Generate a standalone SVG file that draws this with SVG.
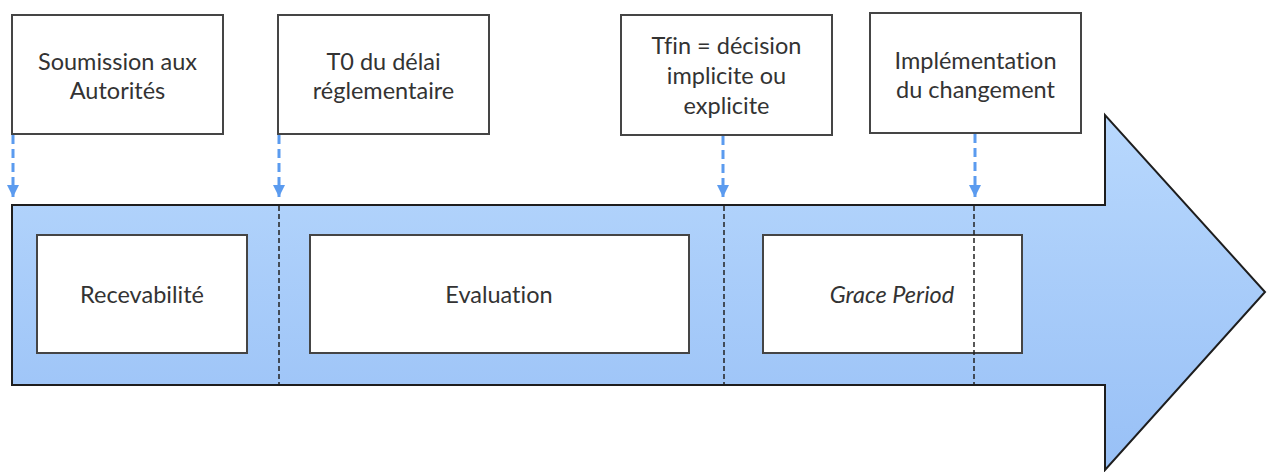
<svg xmlns="http://www.w3.org/2000/svg" width="1271" height="472" viewBox="0 0 1271 472">
  <defs>
    <linearGradient id="bandFill" x1="0" y1="115" x2="0" y2="470" gradientUnits="userSpaceOnUse">
      <stop offset="0" stop-color="#b8d8fd"/>
      <stop offset="1" stop-color="#98c0f6"/>
    </linearGradient>
    <marker id="blueHead" viewBox="0 0 10 10" refX="10" refY="5" markerWidth="4.2" markerHeight="4" orient="auto" markerUnits="strokeWidth">
      <path d="M0,0 L10,5 L0,10 Z" fill="#5b9bef"/>
    </marker>
    <style>
      .box { fill: #ffffff; stroke: #454545; stroke-width: 2; }
      .lbl { font-family: Lato, "Liberation Sans", sans-serif; font-size: 23.5px; fill: #333333; text-anchor: middle; font-variant-ligatures: none; }
      .it { font-style: italic; }
      .pin { stroke: #5b9bef; stroke-width: 3; stroke-dasharray: 9 5; fill: none; }
      .tick { stroke: #222222; stroke-width: 1.5; stroke-dasharray: 5 3; fill: none; }
    </style>
  </defs>

  <!-- timeline arrow -->
  <g id="timeline">
    <path d="M12,205 L1105,205 L1105,115 L1265,292 L1105,470 L1105,385 L12,385 Z" fill="url(#bandFill)" stroke="#1e1e1e" stroke-width="2" stroke-linejoin="miter"/>
  </g>

  <!-- phases on the timeline -->
  <g id="recevabilite">
    <rect class="box" x="37" y="235" width="210" height="118"/>
    <text class="lbl" x="142" y="303">Recevabilité</text>
  </g>
  <g id="evaluation">
    <rect class="box" x="310" y="235" width="379" height="118"/>
    <text class="lbl" x="499" y="303">Evaluation</text>
  </g>
  <g id="grace-period">
    <rect class="box" x="763" y="235" width="259" height="118"/>
    <text class="lbl it" x="892" y="303">Grace Period</text>
  </g>

  <!-- milestones above the timeline -->
  <g id="soumission">
    <rect class="box" x="12" y="15" width="211" height="119"/>
    <text class="lbl" x="117.5" y="70">Soumission aux</text>
    <text class="lbl" x="117.5" y="99">Autorités</text>
  </g>
  <g id="t0">
    <rect class="box" x="278" y="15" width="211" height="119"/>
    <text class="lbl" x="383.5" y="70">T0 du délai</text>
    <text class="lbl" x="383.5" y="99">réglementaire</text>
  </g>
  <g id="tfin">
    <rect class="box" x="621" y="15" width="211" height="120"/>
    <text class="lbl" x="726.5" y="54">Tfin = décision</text>
    <text class="lbl" x="726.5" y="84">implicite ou</text>
    <text class="lbl" x="726.5" y="114">explicite</text>
  </g>
  <g id="implementation">
    <rect class="box" x="870" y="13" width="211" height="120"/>
    <text class="lbl" x="975.5" y="69">Implémentation</text>
    <text class="lbl" x="975.5" y="98">du changement</text>
  </g>

  <!-- connectors: milestone pins and boundary ticks -->
  <g id="connectors">
    <line class="pin" x1="13" y1="135" x2="13" y2="197" marker-end="url(#blueHead)"/>
    <line class="pin" x1="279" y1="135" x2="279" y2="197" marker-end="url(#blueHead)"/>
    <line class="pin" x1="723" y1="136" x2="723" y2="197" marker-end="url(#blueHead)"/>
    <line class="pin" x1="975" y1="134" x2="975" y2="197" marker-end="url(#blueHead)"/>
    <line class="tick" x1="279" y1="206" x2="279" y2="384"/>
    <line class="tick" x1="724" y1="206" x2="724" y2="384"/>
    <line class="tick" x1="974" y1="206" x2="974" y2="384"/>
  </g>
</svg>
